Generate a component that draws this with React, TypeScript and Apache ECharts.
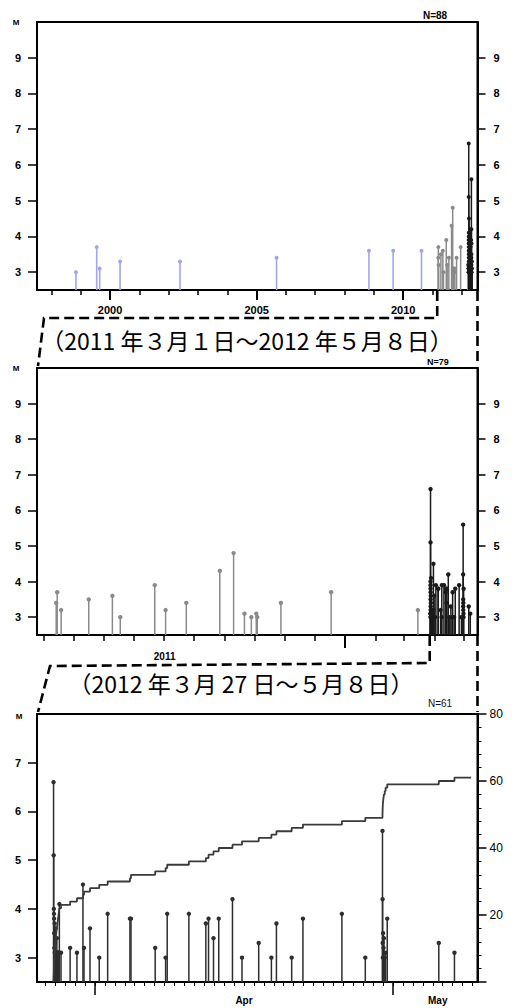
import React, { useEffect, useRef } from 'react';
import * as echarts from 'echarts';

// ---- data -------------------------------------------------------------
// events before 2011-03-01 (purple)
const oldDates = ['1998-11-02', '1999-07-19', '1999-08-25', '2000-05-05', '2002-05-22', '2005-09-06', '2008-10-31', '2009-08-29', '2010-08-17'];
const oldMags = [3.0, 3.7, 3.1, 3.3, 3.3, 3.4, 3.6, 3.6, 3.6];

// 2011-03-01 .. 2012-03-26 (gray)
const grayDates = ['2011-03-14', '2011-03-15', '2011-03-19', '2011-04-16', '2011-05-10', '2011-05-18', '2011-06-22', '2011-07-03', '2011-07-24', '2011-08-27', '2011-09-10', '2011-09-21', '2011-09-28', '2011-10-03', '2011-10-04', '2011-10-28', '2011-12-18', '2012-03-15'];
const grayMags = [3.4, 3.7, 3.2, 3.5, 3.6, 3.0, 3.9, 3.2, 3.4, 4.3, 4.8, 3.1, 3.0, 3.1, 3.0, 3.4, 3.7, 3.2];

// 2012-03-27 .. 2012-05-08 (black)
const recentDates = [
  '2012-03-27T20:00', '2012-03-27T20:20', '2012-03-27T20:40', '2012-03-27T21:00', '2012-03-27T21:20',
  '2012-03-27T21:40', '2012-03-27T22:00', '2012-03-27T22:30', '2012-03-27T23:00', '2012-03-27T23:30',
  '2012-03-28T00:00', '2012-03-28T00:30', '2012-03-28T01:00', '2012-03-28T02:00', '2012-03-28T03:00',
  '2012-03-28T04:00', '2012-03-28T05:00', '2012-03-28T06:00', '2012-03-28T07:00', '2012-03-28T08:00',
  '2012-03-28T09:00', '2012-03-28T10:00', '2012-03-28T14:00',
  '2012-03-29T12:00', '2012-03-30T04:30', '2012-03-30T19:00', '2012-03-30T21:30', '2012-03-31T12:00',
  '2012-04-01T10:20', '2012-04-02T06:40', '2012-04-04T12:30', '2012-04-04T15:00', '2012-04-07T01:30',
  '2012-04-08T02:40', '2012-04-08T06:30', '2012-04-10T10:50', '2012-04-12T03:50', '2012-04-12T10:20',
  '2012-04-12T22:20', '2012-04-13T11:00', '2012-04-14T20:10', '2012-04-15T19:10', '2012-04-17T11:30',
  '2012-04-18T18:10', '2012-04-19T06:20', '2012-04-20T19:10', '2012-04-21T22:20', '2012-04-25T20:25',
  '2012-04-28T05:00',
  '2012-04-29T22:30', '2012-04-29T22:45', '2012-04-29T23:00', '2012-04-29T23:20', '2012-04-30T00:00',
  '2012-04-30T01:00', '2012-04-30T02:00', '2012-04-30T04:00', '2012-04-30T06:00', '2012-04-30T10:00',
  '2012-05-05T14:30', '2012-05-07T04:20',
];
const recentMags = [
  6.6, 5.1, 4.0, 3.9, 3.8,
  3.5, 3.2, 3.7, 3.1, 3.3,
  3.0, 3.1, 3.6, 3.1, 3.0,
  3.4, 3.1, 3.1, 3.0, 3.1,
  3.1, 4.1, 3.1,
  3.2, 3.1, 4.5, 3.2, 3.6,
  3.0, 3.9, 3.8, 3.8, 3.2,
  3.0, 3.9, 3.9, 3.7, 3.8,
  3.4, 3.8, 4.2, 3.0, 3.3,
  3.0, 3.7, 3.0, 3.8, 3.9,
  3.0,
  5.6, 4.2, 3.3, 3.0, 3.5,
  3.2, 3.4, 3.0, 3.1, 3.8,
  3.3, 3.1,
];
const catalogEnd = '2012-05-08T20:40';

// ---- axes ranges / ticks ---------------------------------------------
const topRange = ['1997-07-05', '2012-07-15'];
const midRange = ['2011-02-22T12:00', '2012-05-14T12:00'];
const botRange = ['2012-03-26T04:00', '2012-05-09T12:00'];

const topYearTicks = ['1998', '1999', '2000', '2001', '2002', '2003', '2004', '2005', '2006', '2007', '2008', '2009', '2010', '2011', '2012'];
const topMajorTicks = ['2000', '2005', '2010'];
const topLabels = ['2000', '2005', '2010'];

const midMonthTicks = ['2011-03', '2011-04', '2011-05', '2011-06', '2011-07', '2011-08', '2011-09', '2011-10', '2011-11', '2011-12', '2012-01', '2012-02', '2012-03', '2012-04', '2012-05'];
const midMajorTicks = ['2012-01'];
const midLabels = ['2011'];
const midLabelAt = ['2011-07-02'];

const botMajorTicks = ['2012-04-01', '2012-05-01'];
const botLabels = ['Apr', 'May'];
const botLabelAt = ['2012-04-16', '2012-05-05T12:00'];

const magTicks = [3, 4, 5, 6, 7, 8, 9];
const botMagTicks = [3, 4, 5, 6, 7];

const title1 = '（2011 年３月１日～2012 年５月８日）';
const title2 = '（2012 年３月 27 日～５月８日）';

// ---- helpers -----------------------------------------------------------
const ts = (s: string): number => {
  let v = s;
  if (v.length === 4) v = v + '-01-01T00:00';
  else if (v.length === 7) v = v + '-01T00:00';
  else if (v.length === 10) v = v + 'T00:00';
  return new Date(v).getTime();
};

const FONT = '"Liberation Sans", Arial, sans-serif';
const DAY = 86400000;

function dailyTicks(): number[] {
  const out: number[] = [];
  const a = ts(botRange[0]);
  const b = ts(botRange[1]);
  const d = new Date(a);
  d.setHours(0, 0, 0, 0);
  let t = d.getTime() + DAY;
  while (t <= b) {
    out.push(t);
    t += DAY;
  }
  return out;
}

function timeAxis(grid: number, range: string[], ticks: number[], len: number, width: number, overlay: boolean, labels?: string[], labelAt?: string[], labelMargin?: number, labelSize?: number) {
  const lt = labelAt ? labelAt.map(ts) : [];
  return {
    type: 'value',
    gridIndex: grid,
    position: 'bottom',
    min: ts(range[0]),
    max: ts(range[1]),
    scale: true,
    axisLine: { show: !overlay, onZero: false, lineStyle: { color: '#000', width: 2 } },
    axisTick: { show: true, customValues: ticks, length: len, lineStyle: { color: '#000', width } },
    axisLabel: labels
      ? {
          show: true,
          customValues: lt,
          margin: labelMargin,
          color: '#000',
          fontFamily: FONT,
          fontWeight: 'bold',
          fontSize: labelSize,
          hideOverlap: false,
          formatter: (v: number) => {
            const i = lt.findIndex((x) => Math.abs(x - v) < 60000);
            return i >= 0 ? labels[i] : '';
          },
        }
      : { show: false },
    splitLine: { show: false },
    axisPointer: { show: false },
  };
}

function magAxis(grid: number, pos: string, max: number, ticks: number[]) {
  return {
    type: 'value',
    gridIndex: grid,
    position: pos,
    min: 2.5,
    max,
    axisLine: { show: true, onZero: false, lineStyle: { color: '#000', width: 2 } },
    axisTick: { show: true, customValues: ticks, length: pos === 'left' ? 9 : 8, lineStyle: { color: '#000', width: 1.5 } },
    axisLabel: { show: true, customValues: ticks, margin: 16, color: '#000', fontFamily: FONT, fontWeight: 'bold', fontSize: 11 },
    splitLine: { show: false },
  };
}

function stems(name: string, xi: number, yi: number, dates: string[], mags: number[], color: string, lw: number, r: number, z: number) {
  return {
    name,
    type: 'custom',
    xAxisIndex: xi,
    yAxisIndex: yi,
    z,
    data: dates.map((d, i) => [ts(d), mags[i]]),
    encode: { x: 0, y: 1 },
    renderItem: (params: any, api: any) => {
      const x = api.value(0);
      const m = api.value(1);
      const top = api.coord([x, m]);
      const base = api.coord([x, 2.5]);
      return {
        type: 'group',
        children: [
          { type: 'line', shape: { x1: top[0], y1: base[1], x2: top[0], y2: top[1] }, style: { stroke: color, lineWidth: lw } },
          { type: 'circle', shape: { cx: top[0], cy: top[1], r }, style: { fill: color, stroke: null } },
        ],
      };
    },
  };
}

const App: React.FC = () => {
  const ref = useRef<HTMLDivElement>(null);

  useEffect(() => {
    if (!ref.current) return;
    const chart = echarts.init(ref.current, null, { renderer: 'svg' });

    const sorted = recentDates.map(ts).sort((a, b) => a - b);
    const cum: number[][] = [[sorted[0], 0]];
    sorted.forEach((t, i) => cum.push([t, i + 1]));
    cum.push([ts(catalogEnd), sorted.length]);

    const gridBase = { show: true, borderColor: '#000', borderWidth: 2, backgroundColor: 'transparent', containLabel: false, outerBoundsMode: 'none' };

    const option: any = {
      animation: false,
      backgroundColor: '#fff',
      grid: [
        { ...gridBase, left: 37, top: 22, width: 440.5, height: 268 },
        { ...gridBase, left: 37, top: 368, width: 440.5, height: 267 },
        { ...gridBase, left: 37, top: 714, width: 440.5, height: 268 },
      ],
      xAxis: [
        timeAxis(0, topRange, topYearTicks.map(ts), 5, 1.5, false),
        timeAxis(0, topRange, topMajorTicks.map(ts), 10, 2, true, topLabels, topLabels, 14, 11),
        timeAxis(1, midRange, midMonthTicks.map(ts), 6, 1.5, false),
        timeAxis(1, midRange, midMajorTicks.map(ts), 13, 2, true, midLabels, midLabelAt, 16, 10),
        timeAxis(2, botRange, dailyTicks(), 4, 1, false),
        timeAxis(2, botRange, botMajorTicks.map(ts), 13, 1.5, true, botLabels, botLabelAt, 13, 10),
      ],
      yAxis: [
        magAxis(0, 'left', 10, magTicks),
        magAxis(0, 'right', 10, magTicks),
        magAxis(1, 'left', 10, magTicks),
        magAxis(1, 'right', 10, magTicks),
        magAxis(2, 'left', 8, botMagTicks),
        {
          type: 'value',
          gridIndex: 2,
          position: 'right',
          min: 0,
          max: 80,
          interval: 20,
          axisLine: { show: true, onZero: false, lineStyle: { color: '#000', width: 2 } },
          axisTick: { show: true, length: 9, lineStyle: { color: '#000', width: 1.5 } },
          minorTick: { show: true, splitNumber: 5, length: 4, lineStyle: { color: '#000', width: 1 } },
          axisLabel: { show: true, margin: 12, color: '#000', fontFamily: FONT, fontSize: 12, formatter: (v: number) => (v === 0 ? '' : String(v)) },
          splitLine: { show: false },
        },
      ],
      series: [
        stems('old', 0, 0, oldDates, oldMags, '#a4a4ec', 1.6, 2, 3),
        stems('gray-top', 0, 0, grayDates, grayMags, '#8a8a8a', 1.5, 2, 3),
        stems('recent-top', 0, 0, recentDates, recentMags, '#1a1a1a', 1.5, 2, 4),
        stems('gray-mid', 2, 2, grayDates, grayMags, '#8a8a8a', 1.5, 2.2, 3),
        stems('recent-mid', 2, 2, recentDates, recentMags, '#1a1a1a', 1.5, 2.2, 4),
        stems('recent-bot', 4, 4, recentDates, recentMags, '#2e2e2e', 1.5, 2.2, 3),
        {
          name: 'cumulative',
          type: 'line',
          xAxisIndex: 4,
          yAxisIndex: 5,
          step: 'end',
          showSymbol: false,
          symbol: 'none',
          data: cum,
          lineStyle: { color: '#3a3a3a', width: 1.8 },
          z: 5,
        },
      ],
    };
    chart.setOption(option);

    const xTopStart = chart.convertToPixel({ xAxisIndex: 0 }, ts('2011-03-01')) as number;
    const xMidStart = chart.convertToPixel({ xAxisIndex: 2 }, ts('2012-03-27')) as number;
    const xRight = 37 + 440.5;
    const dash = { stroke: '#000', lineWidth: 2.6, lineDash: [10, 5], fill: 'none' };

    const txt = (text: string, x: number, y: number, size: number, weight: string, family: string, color = '#000') => ({
      type: 'text',
      style: { text, x, y, fill: color, fontSize: size, fontWeight: weight, fontFamily: family, textAlign: 'center', textVerticalAlign: 'middle' },
      z: 100,
    });

    chart.setOption({
      graphic: [
        { type: 'polyline', shape: { points: [[xTopStart, 291], [xTopStart, 318], [44, 318], [38, 366]] }, style: dash, z: 50 },
        { type: 'polyline', shape: { points: [[xRight, 291], [xRight, 366]] }, style: dash, z: 50 },
        { type: 'polyline', shape: { points: [[xMidStart, 636], [xMidStart, 663], [50, 666], [38, 712]] }, style: dash, z: 50 },
        { type: 'polyline', shape: { points: [[xRight, 636], [xRight, 712]] }, style: dash, z: 50 },
        txt(title1, 247, 340, 23, 'normal', '"Noto Sans CJK JP", sans-serif'),
        txt(title2, 241, 683, 23, 'normal', '"Noto Sans CJK JP", sans-serif'),
        txt('N=88', 435, 15, 10, 'bold', FONT),
        txt('N=79', 438, 362, 9, 'bold', FONT),
        txt('N=61', 440, 703, 10, 'normal', FONT, '#111'),
        txt('M', 16, 22, 8, 'bold', FONT),
        txt('M', 16, 368, 8, 'bold', FONT),
        txt('M', 19, 716, 8, 'bold', FONT),
      ],
    });

    return () => {
      chart.dispose();
    };
  }, []);

  return <div ref={ref} style={{ position: 'absolute', left: 0, top: 0, width: 515, height: 1008 }} />;
};

export default App;
